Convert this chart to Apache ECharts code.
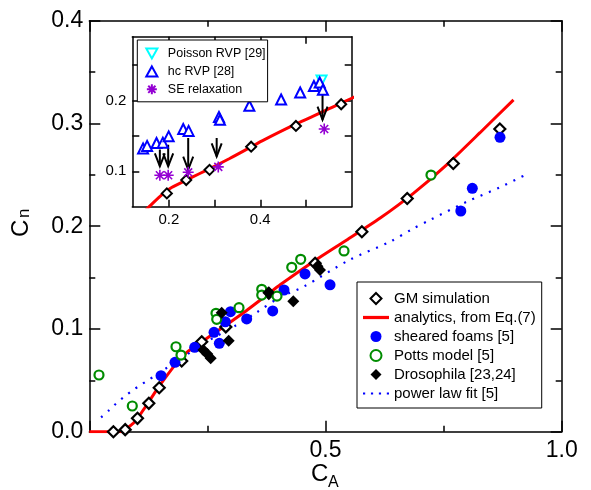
<!DOCTYPE html>
<html><head><meta charset="utf-8">
<script src="https://cdn.jsdelivr.net/npm/echarts@6/dist/echarts.min.js"></script>
<style>html,body{margin:0;padding:0;background:#fff}#c{width:591px;height:490px}</style>
</head><body><div id="c"></div>
<script>
// ---------- data ----------
const gmX = [0.051, 0.076, 0.102, 0.126, 0.148, 0.1956, 0.238, 0.289, 0.380, 0.478, 0.577, 0.673, 0.7705, 0.869];
const gmY = [0.000, 0.002, 0.013, 0.0276, 0.0428, 0.0688, 0.0876, 0.102, 0.1347, 0.164, 0.1946, 0.227, 0.261, 0.2946];

const anaX = [0, 0.065, 0.072, 0.097, 0.12, 0.143, 0.165, 0.185, 0.206, 0.249, 0.284, 0.333, 0.376, 0.404, 0.474, 0.545, 0.615, 0.686, 0.757, 0.827, 0.898];
const anaY = [0, 0, 0.001, 0.010, 0.025, 0.041, 0.055, 0.067, 0.077, 0.091, 0.102, 0.118, 0.133, 0.143, 0.1655, 0.1866, 0.2077, 0.232, 0.260, 0.291, 0.323];

const foamX = [0.1518, 0.1814, 0.2231, 0.264, 0.2752, 0.2879, 0.2989, 0.3332, 0.3882, 0.4122, 0.4566, 0.5096, 0.7864, 0.8108, 0.8694];
const foamY = [0.0545, 0.0675, 0.0821, 0.0967, 0.086, 0.107, 0.1168, 0.1097, 0.1175, 0.1379, 0.1535, 0.143, 0.2148, 0.2369, 0.2865];

const pottsX = [0.0205, 0.091, 0.1835, 0.1941, 0.2682, 0.2697, 0.3169, 0.365, 0.365, 0.3973, 0.4285, 0.4475, 0.5392, 0.7233];
const pottsY = [0.0552, 0.025, 0.0827, 0.0746, 0.1152, 0.1094, 0.1207, 0.1386, 0.133, 0.132, 0.160, 0.1678, 0.1759, 0.2498];

const drosX = [0.2413, 0.2498, 0.257, 0.2803, 0.2951, 0.3789, 0.4318, 0.483, 0.4884];
const drosY = [0.0795, 0.0756, 0.0714, 0.1158, 0.0886, 0.1353, 0.1269, 0.161, 0.1574];

const powX = [0.025, 0.042, 0.058, 0.074, 0.091, 0.107, 0.124, 0.141, 0.157, 0.2, 0.25, 0.305, 0.354, 0.404, 0.453, 0.55, 0.637, 0.683, 0.721, 0.8, 0.87, 0.93];
const powY = [0.014, 0.021, 0.028, 0.034, 0.040, 0.045, 0.050, 0.055, 0.060, 0.073, 0.088, 0.102, 0.116, 0.131, 0.141, 0.167, 0.185, 0.197, 0.206, 0.224, 0.238, 0.2515];

// inset
const hcX = [0.1436, 0.1524, 0.173, 0.1868, 0.1996, 0.2314, 0.2432, 0.3096, 0.3118, 0.3761, 0.4456, 0.4873, 0.5173, 0.530, 0.537];
const hcY = [0.1323, 0.1358, 0.140, 0.1404, 0.1493, 0.1597, 0.157, 0.1766, 0.1728, 0.1925, 0.2014, 0.2113, 0.2203, 0.2254, 0.2151];
const poisX = [0.534];
const poisY = [0.228];
const seX = [0.1803, 0.1985, 0.2423, 0.3081, 0.5399];
const seY = [0.0944, 0.0944, 0.0986, 0.1062, 0.1597];
const arrowX = [0.1803, 0.1985, 0.2423, 0.3046, 0.5362];
const arrowFrom = [0.1306, 0.1376, 0.147, 0.147, 0.210];
const arrowTo = [0.107, 0.107, 0.1024, 0.121, 0.1728];

const mainXTicks = ['0.5', '1.0'];
const mainYTicks = ['0.0', '0.1', '0.2', '0.3', '0.4'];
const insetXLabels = [0.2, 0.4];
const insetXTicks = [0.2, 0.3, 0.4, 0.5];
const insetYLabels = [0.1, 0.2];
const insetYTicks = [0.1, 0.15, 0.2, 0.25];

// ---------- chart ----------
const zip = (a, b) => a.map((v, i) => [v, b[i]]);
const FONT = '"Liberation Sans", Arial, Helvetica, sans-serif';
const chart = echarts.init(document.getElementById('c'), null, {renderer: 'canvas'});
const axLine = {show: true, onZero: false, lineStyle: {color: '#000', width: 1.5}};
const mainTick = {show: true, inside: true, length: 11, lineStyle: {color: '#000', width: 1.5}};
const mainMinor = {show: true, splitNumber: 2, length: 6, lineStyle: {color: '#000', width: 1.5}};
const insetTick = {show: true, inside: true, length: 7, lineStyle: {color: '#000', width: 1.5}, customValues: insetXTicks};
const insetYTick = {show: true, inside: true, length: 7, lineStyle: {color: '#000', width: 1.5}, customValues: insetYTicks};
const asterisk = 'path://M0,-5L0,5M-5,0L5,0M-3.6,-3.6L3.6,3.6M-3.6,3.6L3.6,-3.6';
const diamondIcon = 'path://M5.5,0L11,5.5L5.5,11L0,5.5Z';
const lineIcon = 'path://M0,0H24V3H0Z';
const dotIcon = 'path://M0,0h2.2v2.2h-2.2z M8,0h2.2v2.2h-2.2z M16,0h2.2v2.2h-2.2z M24,0h2.2v2.2h-2.2z';
const upTri = 'path://M5,0L10,9L0,9Z';
const downTri = 'path://M0,0L10,0L5,9Z';

chart.setOption({
  animation: false,
  backgroundColor: '#fff',
  textStyle: {fontFamily: FONT},
  grid: [
    {left: 89.3, right: 29.3, top: 20.7, bottom: 58.3, containLabel: false},
    {left: 132.3, right: 239.3, top: 36.7, bottom: 283.3, containLabel: false, show: true, backgroundColor: '#fff', borderWidth: 0, z: 5}
  ],
  xAxis: [
    {gridIndex: 0, type: 'value', min: 0, max: 1, interval: 0.5, position: 'bottom', axisLine: axLine, axisTick: mainTick, minorTick: mainMinor, splitLine: {show: false},
     axisLabel: {fontSize: 23, color: '#000', margin: 7, fontFamily: FONT, showMinLabel: false,
       formatter: v => (v === 0 ? '' : mainXTicks[Math.round(v / 0.5) - 1])}},
    {gridIndex: 0, type: 'value', min: 0, max: 1, interval: 0.5, position: 'top', axisLine: axLine, axisTick: mainTick, minorTick: mainMinor, splitLine: {show: false}, axisLabel: {show: false}},
    {gridIndex: 1, type: 'value', min: 0.12, max: 0.6, position: 'bottom', z: 6, axisLine: axLine, axisTick: insetTick, splitLine: {show: false},
     axisLabel: {fontSize: 15, color: '#000', margin: 6, fontFamily: FONT, customValues: insetXLabels, formatter: v => v.toFixed(1)}},
    {gridIndex: 1, type: 'value', min: 0.12, max: 0.6, position: 'top', z: 6, axisLine: axLine, axisTick: insetTick, splitLine: {show: false}, axisLabel: {show: false}}
  ],
  yAxis: [
    {gridIndex: 0, type: 'value', min: 0, max: 0.4, interval: 0.1, position: 'left', axisLine: axLine, axisTick: mainTick, minorTick: mainMinor, splitLine: {show: false},
     axisLabel: {fontSize: 23, color: '#000', margin: 6, fontFamily: FONT, formatter: v => mainYTicks[Math.round(v / 0.1)]}},
    {gridIndex: 0, type: 'value', min: 0, max: 0.4, interval: 0.1, position: 'right', axisLine: axLine, axisTick: mainTick, minorTick: mainMinor, splitLine: {show: false}, axisLabel: {show: false}},
    {gridIndex: 1, type: 'value', min: 0.05, max: 0.29, position: 'left', z: 6, axisLine: axLine, axisTick: insetYTick, splitLine: {show: false},
     axisLabel: {fontSize: 15, color: '#000', margin: 6, fontFamily: FONT, customValues: insetYLabels, formatter: v => v.toFixed(1)}},
    {gridIndex: 1, type: 'value', min: 0.05, max: 0.29, position: 'right', z: 6, axisLine: axLine, axisTick: insetYTick, splitLine: {show: false}, axisLabel: {show: false}}
  ],
  legend: [
    {data: [
       {name: 'GM simulation', icon: diamondIcon},
       {name: 'analytics, from Eq.(7)', icon: lineIcon},
       {name: 'sheared foams [5]', icon: 'circle'},
       {name: 'Potts model [5]', icon: 'circle'},
       {name: 'Drosophila [23,24]', icon: diamondIcon},
       {name: 'power law fit [5]', icon: dotIcon}],
     orient: 'vertical', left: 357, top: 282, padding: [9, 6, 7, 6], itemWidth: 26, itemHeight: 11, itemGap: 4.0,
     borderColor: '#000', borderWidth: 1, backgroundColor: '#fff', selectedMode: false,
     textStyle: {fontSize: 15, lineHeight: 15, color: '#000', fontFamily: FONT}},
    {data: [
       {name: 'Poisson RVP [29]', icon: downTri},
       {name: 'hc RVP [28]', icon: upTri},
       {name: 'SE relaxation', icon: asterisk}],
     orient: 'vertical', left: 137.3, top: 40, padding: [7, 2, 6, 8], itemWidth: 22, itemHeight: 10, itemGap: 4.9, z: 10,
     borderColor: '#000', borderWidth: 1, backgroundColor: '#fff', selectedMode: false,
     textStyle: {fontSize: 12.5, lineHeight: 12, color: '#000', fontFamily: FONT}}
  ],
  series: [
    {name: 'analytics, from Eq.(7)', type: 'line', xAxisIndex: 0, yAxisIndex: 0, data: zip(anaX, anaY), symbol: 'none', smooth: 0.2,
     lineStyle: {color: '#ff0000', width: 3}, itemStyle: {color: '#ff0000'}, z: 2},
    {name: 'power law fit [5]', type: 'line', xAxisIndex: 0, yAxisIndex: 0, data: zip(powX, powY), symbol: 'none', smooth: 0.3,
     lineStyle: {color: '#0000ff', width: 2.2, type: [2, 7], cap: 'butt'}, itemStyle: {color: '#0000ff'}, z: 2},
    {name: 'GM simulation', type: 'scatter', xAxisIndex: 0, yAxisIndex: 0, data: zip(gmX, gmY), symbol: 'diamond', symbolSize: 11,
     itemStyle: {color: '#fff', borderColor: '#000', borderWidth: 2.2, opacity: 1}, z: 3},
    {name: 'sheared foams [5]', type: 'scatter', xAxisIndex: 0, yAxisIndex: 0, data: zip(foamX, foamY), symbol: 'circle', symbolSize: 11,
     itemStyle: {color: '#0000ff', opacity: 1}, z: 4},
    {name: 'Potts model [5]', type: 'scatter', xAxisIndex: 0, yAxisIndex: 0, data: zip(pottsX, pottsY), symbol: 'circle', symbolSize: 9,
     itemStyle: {color: '#fff', borderColor: '#008c00', borderWidth: 2.2, opacity: 1}, z: 4},
    {name: 'Drosophila [23,24]', type: 'scatter', xAxisIndex: 0, yAxisIndex: 0, data: zip(drosX, drosY), symbol: 'diamond', symbolSize: 12,
     itemStyle: {color: '#000', opacity: 1}, z: 4},
    // inset
    {name: 'analytics inset', type: 'line', xAxisIndex: 2, yAxisIndex: 2, data: zip(anaX, anaY), symbol: 'none', smooth: 0.2, clip: true,
     lineStyle: {color: '#ff0000', width: 3}, z: 7},
    {name: 'GM inset', type: 'scatter', xAxisIndex: 2, yAxisIndex: 2, data: zip(gmX, gmY), symbol: 'diamond', symbolSize: 10, clip: true,
     itemStyle: {color: '#fff', borderColor: '#000', borderWidth: 2, opacity: 1}, z: 8},
    {name: 'arrows', type: 'custom', xAxisIndex: 2, yAxisIndex: 2, z: 8, clip: true,
     data: arrowX.map((x, i) => [x, arrowFrom[i], arrowTo[i]]),
     renderItem: (params, api) => {
       const p0 = api.coord([api.value(0), api.value(1)]);
       const p1 = api.coord([api.value(0), api.value(2)]);
       return {type: 'group', children: [
         {type: 'line', shape: {x1: p0[0], y1: p0[1], x2: p1[0], y2: p1[1]}, style: {stroke: '#000', lineWidth: 2}},
         {type: 'polyline', shape: {points: [[p1[0] - 5, p1[1] - 13], [p1[0], p1[1]], [p1[0] + 5, p1[1] - 13]]}, style: {stroke: '#000', lineWidth: 2, fill: null}}
       ]};
     }},
    {name: 'Poisson RVP [29]', type: 'scatter', xAxisIndex: 2, yAxisIndex: 2, data: zip(poisX, poisY), symbol: 'triangle', symbolRotate: 180, symbolSize: 10,
     itemStyle: {color: '#fff', borderColor: '#00ffff', borderWidth: 2, opacity: 1}, z: 8},
    {name: 'hc RVP [28]', type: 'scatter', xAxisIndex: 2, yAxisIndex: 2, data: zip(hcX, hcY), symbol: 'triangle', symbolSize: 10,
     itemStyle: {color: '#fff', borderColor: '#0000ff', borderWidth: 2, opacity: 1}, z: 9},
    {name: 'SE relaxation', type: 'scatter', xAxisIndex: 2, yAxisIndex: 2, data: zip(seX, seY), symbol: asterisk, symbolSize: 11,
     itemStyle: {color: 'rgba(0,0,0,0)', borderColor: '#9400d3', borderWidth: 1.6, opacity: 1}, z: 9}
  ],
  graphic: [
    {type: 'text', left: 311, top: 462, z: 20, style: {text: 'C', font: '24px ' + FONT, fill: '#000'}},
    {type: 'text', left: 328, top: 475, z: 20, style: {text: 'A', font: '16px ' + FONT, fill: '#000'}},
    {type: 'text', x: 9, y: 237, rotation: Math.PI / 2, z: 20, style: {text: 'C', font: '24px ' + FONT, fill: '#000'}},
    {type: 'text', x: 16, y: 218, rotation: Math.PI / 2, z: 20, style: {text: 'n', font: '17px ' + FONT, fill: '#000'}}
  ]
});
</script>
</body></html>
